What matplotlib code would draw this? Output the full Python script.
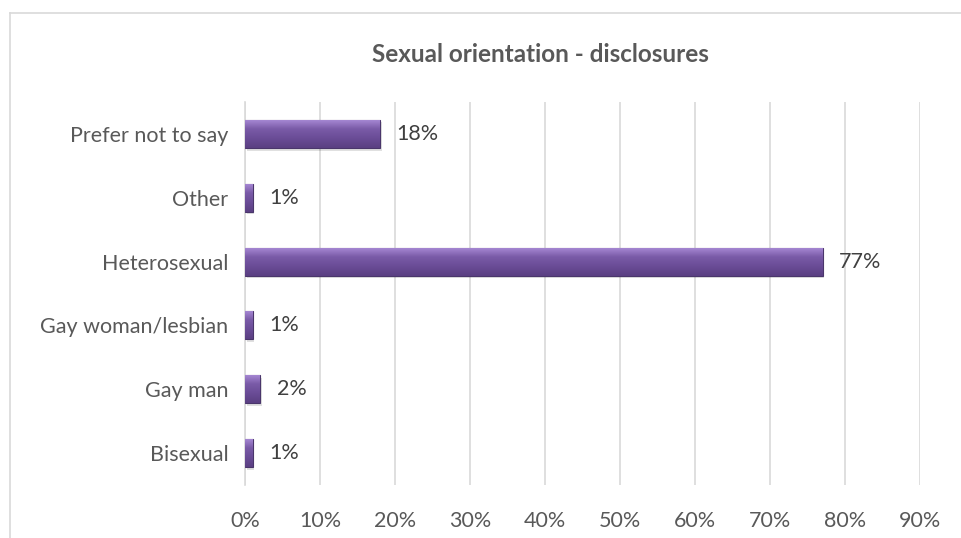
import numpy as np
import matplotlib.pyplot as plt
from matplotlib.patches import Rectangle
from matplotlib.colors import LinearSegmentedColormap

plt.rcParams['font.family'] = ['Lato', 'DejaVu Sans']

categories = ["Bisexual", "Gay man", "Gay woman/lesbian", "Heterosexual", "Other", "Prefer not to say"]
values = [1, 2, 1, 77, 1, 18]
xticks = [0, 10, 20, 30, 40, 50, 60, 70, 80, 90]

W, H = 961, 538
fig = plt.figure(figsize=(W / 100, H / 100), dpi=100)
fig.patch.set_facecolor("white")

# outer chart frame (open to the right and bottom)
fig.add_artist(plt.Line2D([10 / W, 10 / W], [0, 1 - 13 / H], transform=fig.transFigure,
                          color="#d9d9d9", lw=1.2))
fig.add_artist(plt.Line2D([10 / W, 1], [1 - 13 / H, 1 - 13 / H], transform=fig.transFigure,
                          color="#d9d9d9", lw=1.2))

ax = fig.add_axes([245 / W, 1 - 485 / H, (920 - 245) / W, (485 - 102) / H])

for s in ["top", "right", "bottom"]:
    ax.spines[s].set_visible(False)
ax.spines["left"].set_color("#d9d9d9")
ax.spines["left"].set_linewidth(1.2)

fs = 15.5
ax.set_xticks(xticks)
ax.set_xticklabels([f"{t}%" for t in xticks], fontsize=fs, color="#595959")
ax.tick_params(axis="x", length=0, pad=19)
ax.tick_params(axis="y", length=0, pad=12)
ax.set_yticks(range(len(categories)))
ax.set_yticklabels(categories, fontsize=fs, color="#595959")
ax.xaxis.grid(True, color="#d9d9d9", lw=1.2)
ax.set_axisbelow(True)

bar_h = 0.44
cmap = LinearSegmentedColormap.from_list("bar", ["#a98bd6", "#7a5ba8", "#6a4c96", "#5a3f82"])
grad = np.linspace(0, 1, 64).reshape(-1, 1)

bars = ax.barh(range(len(categories)), values, height=bar_h, color="#6f52a0",
               edgecolor="#4a366b", linewidth=0.8, zorder=3)
for i, (b, v) in enumerate(zip(bars, values)):
    # soft shadow under the bar
    ax.add_patch(Rectangle((0.25, i - bar_h / 2 - 0.04), v, bar_h, color="#000000",
                           alpha=0.12, lw=0, zorder=2))
    im = ax.imshow(grad, cmap=cmap, aspect="auto", zorder=3.5,
                   extent=(0, v, i - bar_h / 2, i + bar_h / 2), origin="upper")
    im.set_clip_path(b)
    ax.text(v + 2.2, i, f"{v}%", va="center", ha="left", fontsize=fs, color="#404040", zorder=5)

ax.set_xlim(0, 90)
ax.set_ylim(-0.5, len(categories) - 0.5)

fig.text(540 / W, 1 - 55 / H, "Sexual orientation - disclosures", ha="center", va="center",
         fontsize=17.5, fontweight="bold", color="#595959")

fig.savefig("out.png", dpi=100)
